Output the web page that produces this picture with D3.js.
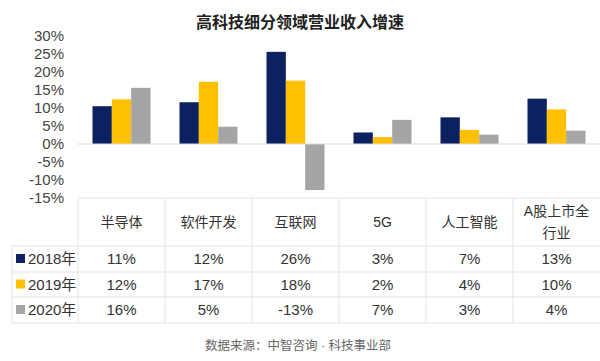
<!DOCTYPE html>
<html>
<head>
<meta charset="utf-8">
<script src="https://cdn.jsdelivr.net/npm/d3@7"></script>
<style>
  body { margin: 0; background: #fff; }
  text { font-family: "Liberation Sans", Arial, "Noto Sans CJK SC", sans-serif; }
</style>
</head>
<body>
<div id="chart"></div>
<script>
var categories = ['半导体', '软件开发', '互联网', '5G', '人工智能', 'A股上市全行业'];
var years = ['2018年', '2019年', '2020年'];
var v2018 = [10.5, 11.6, 25.6, 3.2, 7.4, 12.6];
var v2019 = [12.4, 17.3, 17.6, 1.9, 3.9, 9.6];
var v2020 = [15.6, 4.8, -12.8, 6.7, 2.6, 3.7];
var yTicks = [-15, -10, -5, 0, 5, 10, 15, 20, 25, 30];
var colors = ['#0c2160', '#ffc000', '#a5a5a5'];

var series = [v2018, v2019, v2020];
var width = 600, height = 361;

var svg = d3.select('#chart').append('svg')
    .attr('width', width)
    .attr('height', height);

svg.append('text')
    .attr('x', 300).attr('y', 28)
    .attr('text-anchor', 'middle')
    .attr('font-size', 16)
    .attr('font-weight', 'bold')
    .attr('fill', '#222')
    .text('高科技细分领域营业收入增速');

var x0 = d3.scaleBand().domain(categories).range([78, 600]);
var x1 = d3.scaleBand().domain(years).range([0, x0.bandwidth()]).paddingOuter(0.75);
var y = d3.scaleLinear().domain([-15, 30]).range([198, 36]);

var yAxis = svg.append('g')
    .attr('transform', 'translate(78,0)')
    .call(d3.axisLeft(y).tickValues(yTicks).tickSize(0).tickPadding(14)
        .tickFormat(function(d) { return d + '%'; }));
yAxis.select('.domain').remove();
yAxis.selectAll('text')
    .attr('font-size', 15)
    .attr('fill', '#444')
    .style('font-family', '"Liberation Sans", Arial, sans-serif');

// bars
years.forEach(function(yr, si) {
    svg.append('g').selectAll('rect')
        .data(series[si])
        .enter()
        .append('rect')
        .attr('x', function(d, i) { return x0(categories[i]) + x1(yr); })
        .attr('width', x1.bandwidth())
        .attr('y', function(d) { return y(Math.max(0, d)); })
        .attr('height', function(d) { return Math.abs(y(d) - y(0)); })
        .attr('fill', colors[si]);
});

// zero line
svg.append('line')
    .attr('x1', 78).attr('x2', 600)
    .attr('y1', y(0)).attr('y2', y(0))
    .attr('stroke', '#d9d9d9').attr('stroke-width', 1);

// table
var rowTop = [198, 246, 272, 297, 323];
var grid = svg.append('g').attr('stroke', '#e3e3e3').attr('stroke-width', 1);
grid.append('line').attr('x1', 78).attr('x2', 600).attr('y1', rowTop[0]).attr('y2', rowTop[0]);
rowTop.slice(1).forEach(function(r) {
    grid.append('line').attr('x1', 12).attr('x2', 600).attr('y1', r).attr('y2', r);
});
grid.append('line').attr('x1', 12).attr('x2', 12).attr('y1', rowTop[1]).attr('y2', rowTop[4]);
categories.forEach(function(c) {
    grid.append('line').attr('x1', x0(c)).attr('x2', x0(c)).attr('y1', rowTop[0]).attr('y2', rowTop[4]);
});

var table = svg.append('g')
    .attr('font-size', 14)
    .attr('fill', '#333');

categories.forEach(function(c) {
    var cx = x0(c) + x0.bandwidth() / 2;
    var t = table.append('text')
        .attr('x', cx)
        .attr('text-anchor', 'middle');
    if (c.length > 5) {
        t.append('tspan').attr('x', cx).attr('y', 216).text(c.slice(0, 5));
        t.append('tspan').attr('x', cx).attr('y', 238).text(c.slice(5));
    } else {
        t.attr('y', 227).text(c);
    }
});

years.forEach(function(yr, si) {
    var cy = (rowTop[si + 1] + rowTop[si + 2]) / 2;
    table.append('rect')
        .attr('x', 16).attr('y', cy - 5)
        .attr('width', 9).attr('height', 9)
        .attr('fill', colors[si]);
    table.append('text')
        .attr('x', 28).attr('y', cy + 5)
        .attr('font-size', 15)
        .text(yr);
    series[si].forEach(function(d, i) {
        table.append('text')
            .attr('x', x0(categories[i]) + x0.bandwidth() / 2)
            .attr('y', cy + 5)
            .attr('text-anchor', 'middle')
            .attr('font-size', 15)
            .text(Math.round(d) + '%');
    });
});

svg.append('text')
    .attr('x', 298).attr('y', 350)
    .attr('text-anchor', 'middle')
    .attr('font-size', 12.5)
    .attr('fill', '#666')
    .text('数据来源：中智咨询 · 科技事业部');
</script>
</body>
</html>
